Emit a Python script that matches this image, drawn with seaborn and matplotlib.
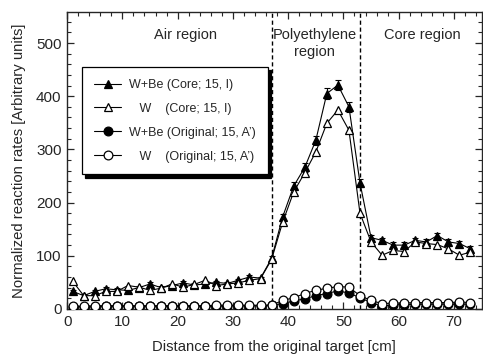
import matplotlib
matplotlib.use("Agg")
import matplotlib.pyplot as plt
from matplotlib.ticker import MultipleLocator
import seaborn as sns
import pandas as pd

# Distance from the original target [cm]
distance = [1, 3, 5, 7, 9, 11, 13, 15, 17, 19, 21, 23, 25, 27, 29, 31, 33, 35,
            37, 39, 41, 43, 45, 47, 49, 51, 53, 55, 57, 59, 61, 63, 65, 67, 69, 71, 73]

# Normalized reaction rates [arbitrary units]
wbe_core = [33, 25, 33, 38, 36, 35, 40, 47, 40, 44, 49, 45, 47, 50, 48, 54, 60, 58,
            95, 173, 231, 266, 317, 405, 421, 380, 237, 134, 129, 120, 120, 129, 126, 138, 126, 123, 113]
wbe_core_err = [3, 3, 3, 3, 3, 3, 3, 3, 3, 3, 3, 3, 3, 3, 3, 3, 3, 3,
                4, 6, 7, 8, 9, 10, 10, 10, 8, 5, 5, 5, 5, 5, 5, 5, 5, 5, 5]
w_core = [52, 25, 25, 33, 33, 44, 41, 35, 39, 47, 41, 46, 54, 44, 47, 49, 54, 57,
          93, 163, 220, 256, 295, 349, 374, 336, 180, 126, 101, 110, 108, 126, 123, 121, 113, 101, 107]
wbe_orig = [4, 4, 4, 5, 5, 5, 5, 5, 5, 5, 5, 5, 5, 5, 6, 6, 6, 6,
            7, 10, 15, 19, 25, 29, 34, 30, 21, 12, 5, 8, 8, 9, 9, 9, 9, 9, 9]
w_orig = [5, 5, 6, 6, 6, 6, 6, 6, 6, 6, 6, 6, 6, 7, 7, 7, 7, 7,
          7, 16, 21, 29, 35, 39, 42, 41, 25, 16, 10, 11, 11, 12, 12, 12, 12, 13, 12]

labels = ["W+Be (Core; 15, I)",
          "   W    (Core; 15, I)",
          "W+Be (Original; 15, A\u2019)",
          "   W    (Original; 15, A\u2019)"]
region_boundaries = [37, 53]

sns.set_style("ticks")
plt.rcParams["font.family"] = ["Liberation Sans", "DejaVu Sans"]
plt.rcParams["axes.linewidth"] = 1.0

fig = plt.figure(figsize=(4.83, 3.58), dpi=100)
ax = fig.add_axes([0.139, 0.137, 0.858, 0.829])

series = [
    (wbe_core, "^", "black", labels[0], 3),
    (w_core, "^", "white", labels[1], 4),
    (wbe_orig, "o", "black", labels[2], 3),
    (w_orig, "o", "white", labels[3], 4),
]
for values, marker, face, label, z in series:
    df = pd.DataFrame({"x": distance, "y": values})
    sns.lineplot(data=df, x="x", y="y", ax=ax, color="black", linewidth=0.8,
                 marker=marker, markersize=6.3, markerfacecolor=face,
                 markeredgecolor="black", markeredgewidth=0.9, label=label,
                 zorder=z)

ax.errorbar(distance, wbe_core, yerr=wbe_core_err, fmt="none", ecolor="black",
            elinewidth=0.8, capsize=2.5, capthick=0.8, zorder=3)

for xb in region_boundaries:
    ax.axvline(xb, color="black", linestyle=(0, (3, 2)), linewidth=1.0, zorder=1)

ax.set_xlim(0, 75)
ax.set_ylim(0, 558)
ax.xaxis.set_minor_locator(MultipleLocator(2))
ax.yaxis.set_major_locator(MultipleLocator(100))
ax.yaxis.set_minor_locator(MultipleLocator(20))
ax.set_xticks([0, 10, 20, 30, 40, 50, 60, 70])
ax.set_xlim(0, 75)
ax.tick_params(which="both", direction="in", top=True, right=True,
               labelsize=11, pad=4)
ax.tick_params(which="major", length=5, width=0.9)
ax.tick_params(which="minor", length=3, width=0.8)

ax.set_xlabel("Distance from the original target [cm]", fontsize=10.7, labelpad=8)
ax.set_ylabel("Normalized reaction rates [Arbitrary units]", fontsize=10.7, labelpad=7)

ax.text(21.5, 515, "Air region", ha="center", va="center", fontsize=10.5)
ax.text(44.8, 515, "Polyethylene", ha="center", va="center", fontsize=10.5)
ax.text(44.8, 483, "region", ha="center", va="center", fontsize=10.5)
ax.text(64.3, 515, "Core region", ha="center", va="center", fontsize=10.5)

leg = ax.legend(loc="upper left", bbox_to_anchor=(0.036, 0.815), fontsize=9,
                frameon=True, fancybox=False, edgecolor="black", framealpha=1,
                handlelength=2.2, handletextpad=0.6, labelspacing=0.95,
                borderpad=0.95, borderaxespad=0,
                shadow={"color": "black", "alpha": 1, "ox": 2.3, "oy": -2.3})
leg.get_frame().set_linewidth(0.9)

fig.savefig("out.png", dpi=100)
